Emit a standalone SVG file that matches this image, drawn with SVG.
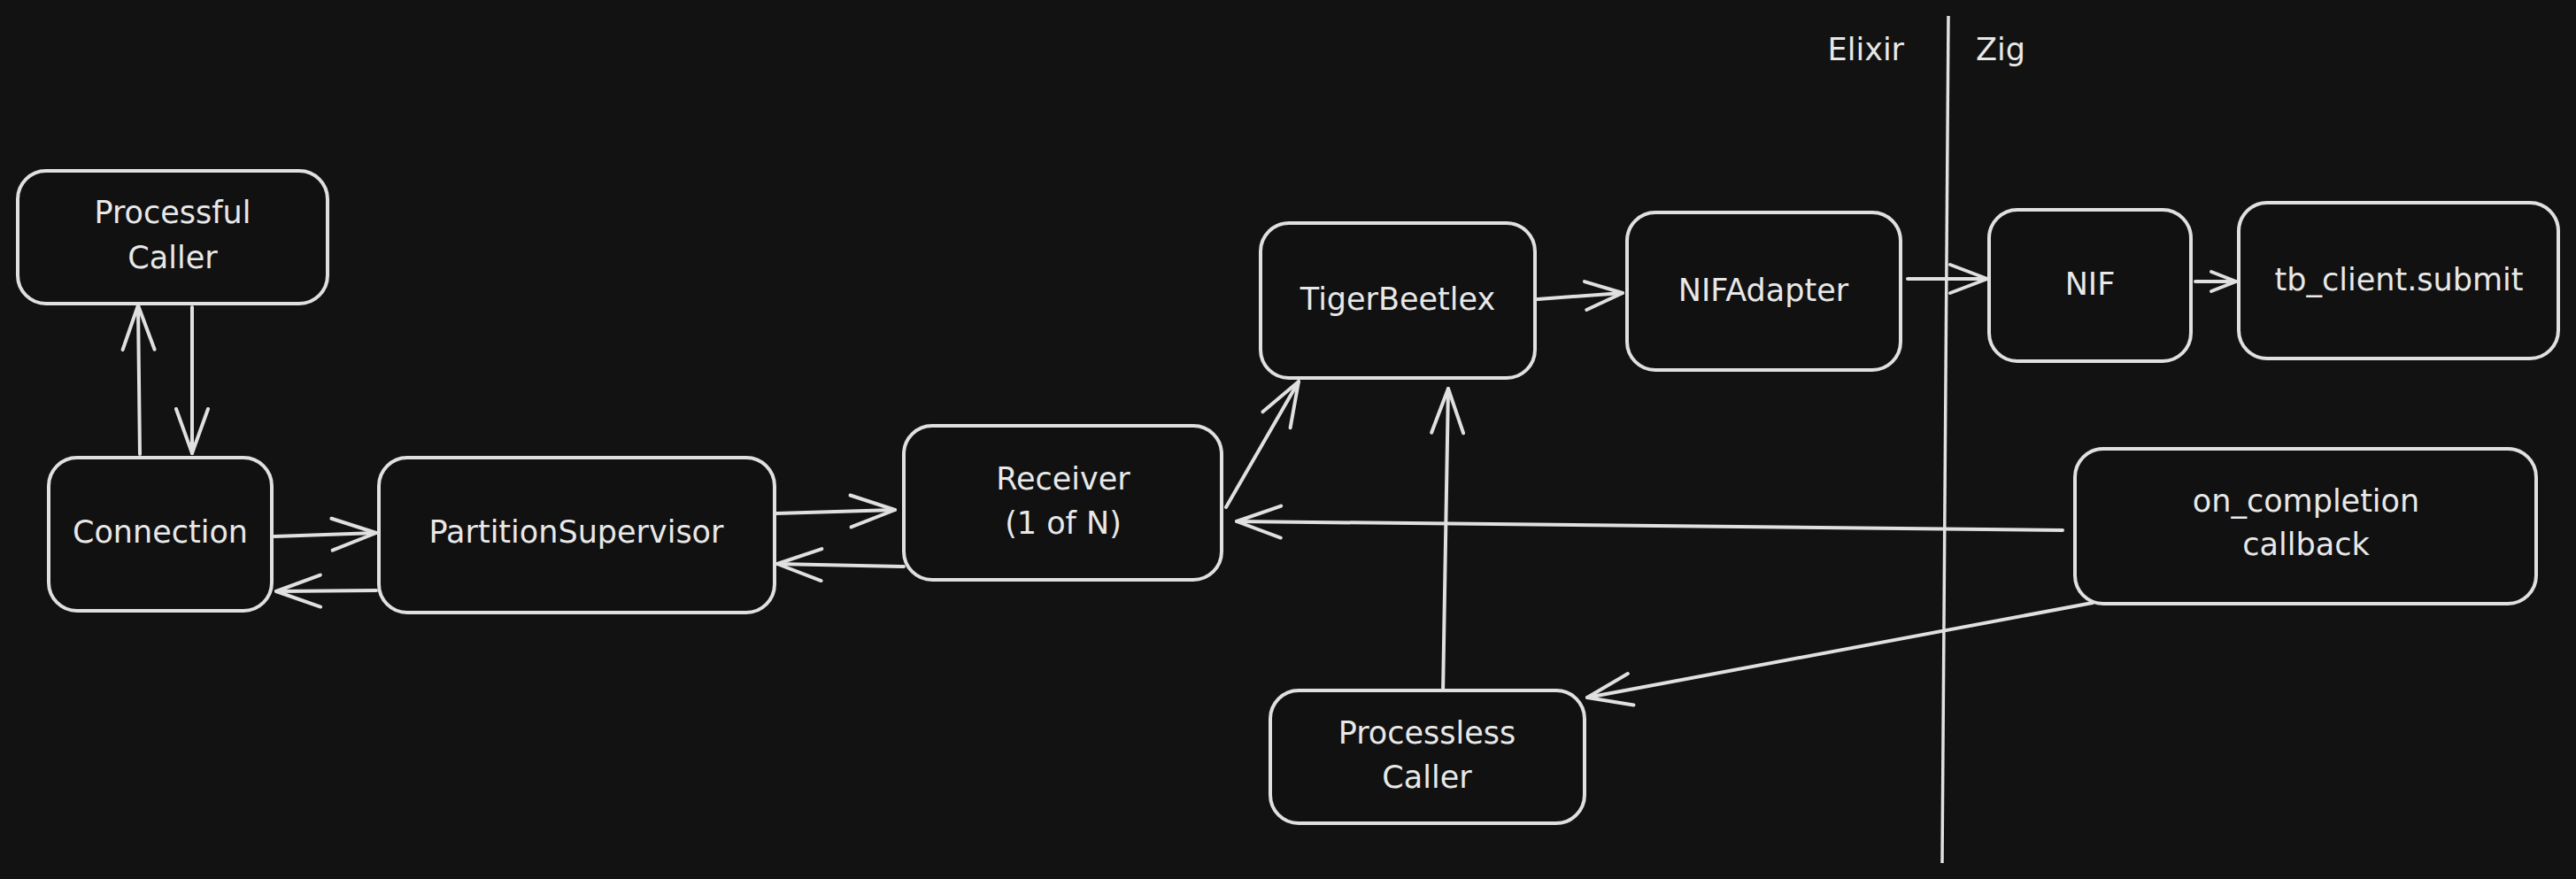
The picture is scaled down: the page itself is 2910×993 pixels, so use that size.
<svg xmlns="http://www.w3.org/2000/svg" width="2910" height="993" viewBox="0 0 2910 993">
<style>
.box{fill:#111111;stroke:#e0e0e0;stroke-width:4}
.lbl{font-family:"DejaVu Sans","Liberation Sans",sans-serif;font-size:35px;fill:#e8e8e8;text-anchor:middle}
.edge{fill:none;stroke:#e0e0e0;stroke-width:4;stroke-linecap:round}
.div{fill:none;stroke:#e0e0e0;stroke-width:3.5}
</style>
<defs>
<marker id="ah" markerUnits="userSpaceOnUse" viewBox="-60 -30 70 60" refX="0" refY="0" markerWidth="70" markerHeight="60" orient="auto" overflow="visible">
<path d="M-50,-18 L0,0 L-50,18" fill="none" stroke="#e0e0e0" stroke-width="4" stroke-linecap="round" stroke-linejoin="round"/>
</marker>
<marker id="ahm" markerUnits="userSpaceOnUse" viewBox="-60 -30 70 60" refX="0" refY="0" markerWidth="70" markerHeight="60" orient="auto" overflow="visible">
<path d="M-42,-16 L0,0 L-42,16" fill="none" stroke="#e0e0e0" stroke-width="4" stroke-linecap="round" stroke-linejoin="round"/>
</marker>
<marker id="ahs" markerUnits="userSpaceOnUse" viewBox="-60 -30 70 60" refX="0" refY="0" markerWidth="70" markerHeight="60" orient="auto" overflow="visible">
<path d="M-28,-11 L0,0 L-28,11" fill="none" stroke="#e0e0e0" stroke-width="4" stroke-linecap="round" stroke-linejoin="round"/>
</marker>
</defs>
<rect x="0" y="0" width="2910" height="993" fill="#121212"/>

<g id="divider">
<line class="div" x1="2201" y1="18" x2="2194" y2="975"/>
<text class="lbl" x="2151" y="68" style="text-anchor:end">Elixir</text>
<text class="lbl" x="2232" y="68" style="text-anchor:start">Zig</text>
</g>

<g id="connectors">
<line class="edge" x1="158" y1="513" x2="156" y2="345" marker-end="url(#ah)"/>
<line class="edge" x1="217" y1="347" x2="217" y2="512" marker-end="url(#ah)"/>
<line class="edge" x1="310" y1="606" x2="425" y2="602" marker-end="url(#ah)"/>
<line class="edge" x1="425" y1="667" x2="312" y2="668" marker-end="url(#ah)"/>
<line class="edge" x1="877" y1="580" x2="1011" y2="576" marker-end="url(#ah)"/>
<line class="edge" x1="1021" y1="640" x2="878" y2="637" marker-end="url(#ah)"/>
<line class="edge" x1="1385" y1="573" x2="1467" y2="431" marker-end="url(#ah)"/>
<line class="edge" x1="1737" y1="338" x2="1833" y2="331" marker-end="url(#ahm)"/>
<line class="edge" x1="2155" y1="315" x2="2245" y2="315" marker-end="url(#ahm)"/>
<line class="edge" x1="2480" y1="318" x2="2526" y2="318" marker-end="url(#ahs)"/>
<line class="edge" x1="2330" y1="599" x2="1397" y2="589" marker-end="url(#ah)"/>
<line class="edge" x1="2364" y1="681" x2="1793" y2="788" marker-end="url(#ah)"/>
<line class="edge" x1="1630" y1="785" x2="1636" y2="439" marker-end="url(#ah)"/>
</g>

<g id="processful-caller">
<rect class="box" x="20" y="193" width="350" height="150" rx="32"/>
<text class="lbl" x="195" y="252">Processful</text>
<text class="lbl" x="195" y="303">Caller</text>
</g>
<g id="connection">
<rect class="box" x="55" y="517" width="252" height="173" rx="32"/>
<text class="lbl" x="181" y="613">Connection</text>
</g>
<g id="partition-supervisor">
<rect class="box" x="428" y="517" width="447" height="175" rx="32"/>
<text class="lbl" x="651" y="613">PartitionSupervisor</text>
</g>
<g id="receiver">
<rect class="box" x="1021" y="481" width="359" height="174" rx="32"/>
<text class="lbl" x="1201" y="553">Receiver</text>
<text class="lbl" x="1201" y="603">(1 of N)</text>
</g>
<g id="tigerbeetlex">
<rect class="box" x="1424" y="252" width="310" height="175" rx="32"/>
<text class="lbl" x="1579" y="350">TigerBeetlex</text>
</g>
<g id="nifadapter">
<rect class="box" x="1838" y="240" width="309" height="178" rx="32"/>
<text class="lbl" x="1992" y="340">NIFAdapter</text>
</g>
<g id="nif">
<rect class="box" x="2247" y="237" width="228" height="171" rx="32"/>
<text class="lbl" x="2361" y="333">NIF</text>
</g>
<g id="tb-client-submit">
<rect class="box" x="2529" y="229" width="361" height="176" rx="32"/>
<text class="lbl" x="2710" y="328">tb_client.submit</text>
</g>
<g id="on-completion-callback">
<rect class="box" x="2344" y="507" width="521" height="175" rx="32"/>
<text class="lbl" x="2605" y="578">on_completion</text>
<text class="lbl" x="2605" y="627">callback</text>
</g>
<g id="processless-caller">
<rect class="box" x="1435" y="780" width="355" height="150" rx="32"/>
<text class="lbl" x="1612" y="840">Processless</text>
<text class="lbl" x="1612" y="890">Caller</text>
</g>
</svg>
